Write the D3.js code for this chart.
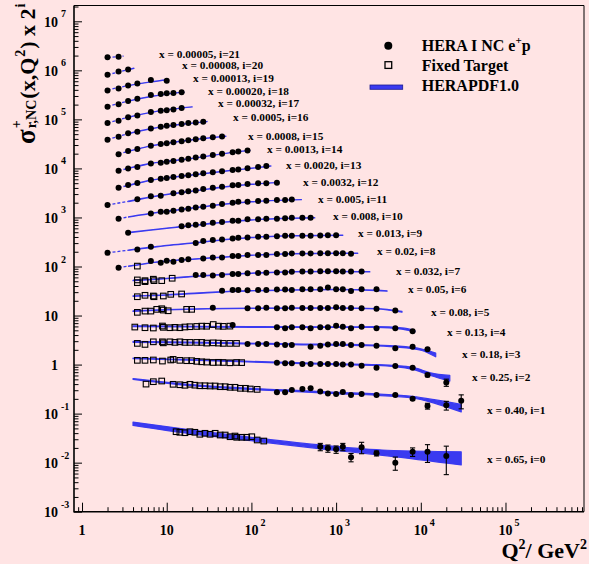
<!DOCTYPE html>
<html>
<head>
<meta charset="utf-8">
<script src="https://cdn.jsdelivr.net/npm/d3@7"></script>
<style>
  html, body { margin: 0; padding: 0; background: #ffe4e4; }
  svg { display: block; }
  text { font-family: "Liberation Serif", "DejaVu Serif", serif; font-weight: bold; fill: #000; }
</style>
</head>
<body>
<svg id="chart" width="589" height="564"></svg>
<script>
// x bin of each row, row i is drawn scaled by 2^i
const xBinLabels = ["0.65", "0.40", "0.25", "0.18", "0.13", "0.08", "0.05", "0.032", "0.02", "0.013",
  "0.008", "0.005", "0.0032", "0.0020", "0.0013", "0.0008", "0.0005", "0.00032", "0.00020", "0.00013",
  "0.00008", "0.00005"];

// HERA I NC e+p: [Q2, sigma_r, error]
const heraData = [
  /* i=0 */ [[650,0.0211,0.0036],[800,0.0196,0.0033],[1000,0.0187,0.0032],[1200,0.0211,0.0036],[1500,0.0129,0.0025],[2000,0.0206,0.0054],[3000,0.0155,0.0018],[5000,0.0100,0.0030],[8000,0.0167,0.0033],[12000,0.0167,0.0066],[20000,0.0137,0.0080]],
  /* i=1 */ [[200,0.136],[250,0.136],[300,0.152],[400,0.159],[500,0.164],[650,0.141],[800,0.128],[1000,0.125],[1200,0.138],[1500,0.120],[2000,0.125],[3000,0.120],[5000,0.120,0.004],[8000,0.101,0.006],[12000,0.0715,0.0097],[20000,0.074,0.015],[30000,0.0916,0.029]],
  /* i=2 */ [[200,0.272],[250,0.265],[300,0.265],[400,0.256],[500,0.256],[650,0.256],[800,0.256],[1000,0.256],[1200,0.252],[1500,0.252],[2000,0.236],[3000,0.216],[5000,0.233],[8000,0.216,0.006],[12000,0.153,0.012],[20000,0.108,0.018]],
  /* i=3 */ [[90,0.327],[120,0.327],[150,0.327],[200,0.322],[250,0.312],[300,0.312],[500,0.288],[650,0.302],[800,0.322],[1000,0.327],[1200,0.327],[1500,0.312],[2000,0.312],[3000,0.302],[5000,0.268],[8000,0.288],[12000,0.258,0.01]],
  /* i=4 */ [[60,0.40],[200,0.359],[250,0.343],[300,0.359],[400,0.359],[500,0.343],[650,0.359],[800,0.359],[1000,0.387],[1200,0.369],[1500,0.343],[2000,0.369],[3000,0.343],[5000,0.343],[8000,0.30]],
  /* i=5 */ [[35,0.45],[90,0.438],[120,0.438],[150,0.45],[200,0.438],[250,0.438],[300,0.45],[400,0.444],[500,0.444],[650,0.444],[800,0.444],[1000,0.459],[1200,0.444],[1500,0.444],[2000,0.438],[3000,0.43],[5000,0.398]],
  /* i=6 */ [[45,0.50],[60,0.52],[70,0.52],[90,0.51],[120,0.52],[150,0.52],[200,0.53],[250,0.53],[300,0.52],[400,0.54],[500,0.535],[650,0.54],[800,0.585],[1000,0.54],[1200,0.54],[1500,0.495],[2000,0.54],[3000,0.54]],
  /* i=7 */ [[22,0.525],[27,0.525],[35,0.51],[45,0.525],[60,0.55],[70,0.55],[90,0.57],[120,0.575],[150,0.585],[200,0.59],[250,0.59],[300,0.61],[400,0.62],[500,0.615],[650,0.625],[800,0.625],[1000,0.625],[1200,0.615],[1500,0.615],[2000,0.615]],
  /* i=8 */ [[2.7,0.368],[6.5,0.504],[8.5,0.465],[10,0.511],[12,0.488],[15,0.528],[18,0.546],[27,0.572],[35,0.599],[45,0.599],[60,0.637],[70,0.637],[90,0.668],[120,0.668],[150,0.668],[200,0.70],[250,0.70],[300,0.723],[400,0.72],[500,0.72],[650,0.73],[800,0.725],[1000,0.73],[1200,0.73],[1500,0.71]],
  /* i=9 */ [[2,0.371],[4.5,0.436],[6.5,0.492],[22,0.59],[27,0.643],[35,0.674],[45,0.696],[60,0.73],[70,0.751],[90,0.765],[120,0.787],[150,0.787],[200,0.813],[250,0.825],[300,0.825],[400,0.83],[500,0.83],[650,0.84],[800,0.85],[1000,0.85]],
  /* i=10 */ [[3.5,0.476],[15,0.643],[18,0.674],[22,0.693],[27,0.716],[35,0.762],[45,0.787],[60,0.837],[70,0.837],[90,0.894],[120,0.894],[150,0.919],[200,0.919],[250,0.936],[300,0.963],[400,0.963],[500,0.963]],
  /* i=11 */ [[2.7,0.459],[6.5,0.591],[8.5,0.637],[10,0.637],[12,0.668],[15,0.713],[18,0.733],[22,0.783],[27,0.806],[35,0.845],[45,0.915],[60,0.972],[70,1.019],[90,1.019],[120,1.053],[150,1.068],[200,1.104],[250,1.104],[300,1.14]],
  /* i=12 */ [[2,0.438],[4.5,0.572],[6.5,0.659],[8.5,0.677],[12,0.758],[15,0.80],[18,0.836],[22,0.865],[27,0.928],[35,0.986],[45,1.033],[60,1.104],[70,1.119],[90,1.173],[120,1.212],[150,1.224],[200,1.247]],
  /* i=13 */ [[2.7,0.492],[3.5,0.558],[4.5,0.614],[6.5,0.707],[8.5,0.751],[10,0.776],[12,0.813],[15,0.852],[18,0.881],[22,0.923],[27,0.968],[35,1.014],[45,1.063],[60,1.13],[70,1.167],[90,1.224],[120,1.30],[150,1.364]],
  /* i=14 */ [[2.7,0.546],[3.5,0.609],[4.5,0.656],[6.5,0.772],[8.5,0.80],[10,0.835],[12,0.868],[15,0.915],[18,0.958],[22,1.024],[27,1.07],[35,1.14],[45,1.21],[60,1.31],[70,1.35],[90,1.42]],
  /* i=15 */ [[2.7,0.591],[3.5,0.69],[4.5,0.758],[6.5,0.885],[8.5,0.958],[10,0.99],[12,1.038],[15,1.088],[18,1.14],[22,1.195],[27,1.253],[35,1.313],[45,1.364]],
  /* i=16 */ [[2,0.585],[2.7,0.674],[3.5,0.791],[4.5,0.852],[6.5,1.0],[8.5,1.078],[10,1.13],[12,1.168],[15,1.224],[18,1.283],[22,1.325],[27,1.364]],
  /* i=17 */ [[2,0.64],[2.7,0.713],[3.5,0.848],[4.5,0.919],[6.5,1.073],[8.5,1.14],[10,1.178],[12,1.218],[15,1.295]],
  /* i=18 */ [[2,0.69],[2.7,0.772],[3.5,0.902],[4.5,1.0],[6.5,1.195],[8.5,1.253],[10,1.295],[12,1.31],[15,1.357]],
  /* i=19 */ [[2,0.744],[2.7,0.817],[3.5,0.941],[4.5,1.033],[6.5,1.206],[10,1.168]],
  /* i=20 */ [[2,0.772],[2.7,0.906],[3.5,0.995]],
  /* i=21 */ [[2,0.877],[2.7,0.902]]
];

// Fixed target: [Q2, sigma_r]
const fixedTargetData = [
  /* i=0 */ [[12.9,0.0428],[14.3,0.0416],[16.4,0.0408],[18.8,0.0428],[21.5,0.0416],[24.6,0.0379],[28.3,0.0397],[32.5,0.0379],[37.3,0.0397],[42.8,0.0366],[49,0.0366],[56,0.0338],[64,0.0349],[67,0.0329],[77,0.0329],[88,0.0329],[101,0.0338],[117,0.0290],[140,0.0276]],
  /* i=1 */ [[5.7,0.200],[6.95,0.224],[8.73,0.231],[11.9,0.198],[14.3,0.194],[16.4,0.189],[18.8,0.198],[21.5,0.190],[24.6,0.185],[28.3,0.185],[32.5,0.183],[37.3,0.183],[42.8,0.177],[49,0.177],[56,0.172],[64,0.172],[74,0.164],[85,0.164],[97,0.159],[117,0.156]],
  /* i=2 */ [[4.5,0.305],[5.54,0.305],[6.95,0.31],[8.9,0.295],[11.15,0.31],[11.9,0.319],[14.3,0.305],[17.2,0.30],[19.7,0.30],[22.6,0.291],[25.9,0.285],[29.6,0.281],[35.4,0.276],[40.8,0.278],[46.5,0.276],[55.7,0.272],[66.7,0.276],[76.7,0.274]],
  /* i=3 */ [[4.5,0.338],[5.54,0.322],[6.95,0.364],[8.9,0.364],[9.12,0.347],[10.9,0.364],[12.5,0.354],[14.3,0.364],[16.4,0.354],[18.8,0.354],[22.6,0.354],[25.9,0.354],[29.6,0.343],[35.4,0.347],[40.8,0.343],[46.5,0.338],[55.7,0.338],[66.7,0.338]],
  /* i=4 */ [[4.2,0.364],[5.54,0.353],[6.95,0.348],[8.9,0.382],[9.12,0.359],[10.9,0.353],[12.5,0.359],[14.3,0.353],[16.4,0.365],[18.8,0.37],[22.6,0.375],[25.9,0.38],[29.6,0.378],[35.4,0.41],[40.8,0.38],[46.5,0.376],[55.7,0.38]],
  /* i=5 */ [[4.5,0.363],[5.54,0.385],[6.5,0.385],[7.62,0.418],[8.73,0.43],[9.12,0.404],[10.4,0.391],[17.2,0.418],[19.7,0.418]],
  /* i=6 */ [[4.5,0.378],[5.54,0.404],[6.95,0.391],[7.08,0.378],[9.12,0.391],[11.15,0.423],[15.0,0.43]],
  /* i=7 */ [[4.5,0.416],[4.5,0.366],[5.54,0.402],[5.54,0.384],[6.95,0.43],[7.08,0.402],[8.73,0.402],[11.6,0.45]],
  /* i=8 */ [[4.5,0.398]]
];

// HERAPDF1.0 band knots: [Q2, lower, upper]
const herapdfBand = [
  /* i=0 */ [[4,0.0575,0.0672],[20,0.0385,0.0462],[100,0.0280,0.0328],[700,0.0189,0.0226],[4000,0.0138,0.0179],[30000,0.0090,0.0167]],
  /* i=1 */ [[4,0.25,0.26],[20,0.185,0.195],[100,0.155,0.163],[300,0.142,0.150],[1000,0.128,0.136],[3000,0.118,0.126],[8000,0.104,0.112],[15000,0.080,0.095],[30000,0.054,0.077]],
  /* i=2 */ [[4,0.33,0.34],[30,0.30,0.31],[200,0.27,0.28],[1000,0.25,0.26],[3000,0.24,0.25],[8000,0.20,0.22],[13000,0.15,0.17],[22000,0.115,0.15]],
  /* i=3 */ [[4,0.355,0.37],[30,0.34,0.355],[300,0.32,0.33],[2000,0.305,0.318],[5000,0.285,0.30],[10000,0.245,0.262],[15000,0.18,0.215]],
  /* i=4 */ [[4,0.37,0.385],[20,0.365,0.377],[100,0.36,0.37],[1000,0.358,0.368],[3000,0.357,0.37],[6000,0.33,0.35],[8500,0.29,0.31]],
  /* i=5 */ [[4,0.38,0.39],[10,0.405,0.415],[30,0.425,0.435],[100,0.435,0.445],[1000,0.44,0.45],[3000,0.425,0.435],[6000,0.365,0.38]],
  /* i=6 */ [[4,0.385,0.395],[10,0.405,0.415],[30,0.455,0.465],[100,0.495,0.505],[300,0.515,0.525],[1000,0.525,0.535],[3000,0.505,0.515],[4000,0.49,0.50]],
  /* i=7 */ [[4,0.40,0.41],[10,0.44,0.45],[22,0.49,0.50],[50,0.535,0.545],[100,0.565,0.575],[300,0.605,0.615],[1000,0.615,0.625],[2500,0.605,0.615]],
  /* i=8 */ [[2.7,0.37,0.378],[4.5,0.415,0.423],[6.5,0.46,0.468],[10,0.50,0.51],[20,0.545,0.555],[50,0.605,0.615],[100,0.655,0.665],[300,0.705,0.715],[1000,0.725,0.735],[1800,0.72,0.73]],
  /* i=9 */ [[2,0.368,0.376],[3.5,0.415,0.423],[6.5,0.475,0.485],[10,0.52,0.53],[22,0.59,0.60],[50,0.69,0.70],[100,0.76,0.77],[300,0.82,0.83],[1200,0.845,0.855]],
  /* i=10 */ [[3.5,0.475,0.485],[6.5,0.535,0.545],[10,0.585,0.595],[20,0.665,0.675],[50,0.785,0.795],[100,0.865,0.875],[300,0.935,0.945],[560,0.955,0.965]],
  /* i=11 */ [[2.7,0.455,0.465],[3.5,0.495,0.505],[6.5,0.585,0.595],[10,0.645,0.655],[20,0.755,0.765],[50,0.915,0.925],[100,1.015,1.025],[200,1.085,1.095],[390,1.125,1.135]],
  /* i=12 */ [[2,0.435,0.445],[3.5,0.515,0.525],[6.5,0.635,0.645],[10,0.715,0.725],[20,0.835,0.845],[50,1.025,1.035],[100,1.155,1.165],[210,1.245,1.255]],
  /* i=13 */ [[2.7,0.49,0.50],[3.5,0.545,0.555],[6.5,0.695,0.705],[10,0.775,0.785],[20,0.895,0.905],[50,1.075,1.085],[100,1.225,1.235],[170,1.365,1.375]],
  /* i=14 */ [[2.7,0.545,0.555],[3.5,0.605,0.615],[6.5,0.765,0.775],[10,0.845,0.855],[20,0.975,0.985],[50,1.235,1.245],[96,1.415,1.425]],
  /* i=15 */ [[2.7,0.595,0.605],[3.5,0.675,0.685],[6.5,0.875,0.885],[10,0.985,0.995],[20,1.165,1.175],[50,1.375,1.385]],
  /* i=16 */ [[2,0.585,0.595],[3.5,0.775,0.785],[6.5,0.975,0.985],[10,1.105,1.115],[20,1.275,1.285],[30,1.375,1.385]],
  /* i=17 */ [[2,0.635,0.645],[3.5,0.835,0.845],[6.5,1.055,1.065],[10,1.185,1.195],[20,1.365,1.375]],
  /* i=18 */ [[2,0.695,0.705],[3.5,0.895,0.905],[6.5,1.115,1.125],[10,1.245,1.255],[16,1.365,1.375]],
  /* i=19 */ [[2,0.755,0.765],[3.5,0.925,0.935],[6.5,1.105,1.115],[10.3,1.22,1.23]],
  /* i=20 */ [[2,0.775,0.785],[2.7,0.875,0.885],[4.1,1.045,1.055]],
  /* i=21 */ [[2,0.865,0.875],[3.1,0.925,0.935]]
];

// where each "x = ..., i=..." label sits, in data units [Q2, sigma level]
const labelAnchors = [[60500,0.0117],[60500,0.058],[40200,0.141],[30600,0.204],[20400,0.292],[13200,0.368],
  [7063,0.543],[5097,0.643],[3041,0.817],[1814,0.936],[919,1.043],[611,1.157],[407,1.307],[256,1.429],
  [153,1.511],[91.2,1.415],[60.7,1.70],[40.4,1.637],[30.7,1.463],[20.4,1.344],[15.2,1.218],[8.11,1.02]];

const Q2_MIN_FIT = 3.5;   // below this the prediction is drawn dashed
const BLUE = '#3a3af0';

const svg = d3.select('#chart');
const plot = {left: 74, right: 584, top: 5.5, bottom: 511.7};

const x = d3.scaleLog().domain([0.804, 8.45e5]).range([plot.left, plot.right]);
const y = d3.scaleLog().domain([1e-3, 2.1e7]).range([plot.bottom, plot.top]);

const scaled = (i, s) => s * Math.pow(2, i);
const isMajor = d => Math.abs(Math.log10(d) - Math.round(Math.log10(d))) < 1e-6;

function logTicks(lo, hi) {
    const t = [];
    for (let e = Math.floor(Math.log10(lo)); e <= Math.ceil(Math.log10(hi)); e++) {
        for (let k = 1; k < 10; k++) {
            const v = k * Math.pow(10, e);
            if (v >= lo && v <= hi) t.push(v);
        }
    }
    return t;
}

// clip regions: fitted range vs extrapolation
const defs = svg.append('defs');
defs.append('clipPath').attr('id', 'fitRange').append('rect')
    .attr('x', x(Q2_MIN_FIT)).attr('y', plot.top)
    .attr('width', plot.right - x(Q2_MIN_FIT)).attr('height', plot.bottom - plot.top);
defs.append('clipPath').attr('id', 'extrap').append('rect')
    .attr('x', plot.left).attr('y', plot.top)
    .attr('width', x(Q2_MIN_FIT) - plot.left).attr('height', plot.bottom - plot.top);

// HERAPDF bands
const bandG = svg.append('g');
herapdfBand.forEach((knots, i) => {
    const pts = knots.map(k => ({q: k[0], lo: scaled(i, k[1]), hi: scaled(i, k[2])}));
    const area = d3.area()
        .x(d => x(d.q)).y0(d => y(d.lo)).y1(d => y(d.hi))
        .curve(d3.curveMonotoneX);
    const mid = d3.line()
        .x(d => x(d.q)).y(d => y(Math.sqrt(d.lo * d.hi)))
        .curve(d3.curveMonotoneX);

    bandG.append('path')
        .attr('d', area(pts))
        .attr('clip-path', 'url(#fitRange)')
        .attr('fill', BLUE)
        .attr('stroke', BLUE)
        .attr('stroke-width', 1.2)
        .attr('stroke-linejoin', 'round');

    bandG.append('path')
        .attr('d', mid(pts))
        .attr('clip-path', 'url(#extrap)')
        .attr('fill', 'none')
        .attr('stroke', BLUE)
        .attr('stroke-width', 1.3)
        .attr('stroke-dasharray', '3,2');
});

// fixed target squares
const ftG = svg.append('g');
fixedTargetData.forEach((pts, i) => {
    pts.forEach(p => {
        ftG.append('rect')
            .attr('x', x(p[0]) - 2.8)
            .attr('y', y(scaled(i, p[1])) - 2.8)
            .attr('width', 5.6)
            .attr('height', 5.6)
            .attr('fill', 'none')
            .attr('stroke', '#000')
            .attr('stroke-width', 1.1);
    });
});

// HERA points with error bars
const heraG = svg.append('g');
heraData.forEach((pts, i) => {
    pts.forEach(p => {
        const cx = x(p[0]);
        const err = p[2] || 0;
        if (err > 0) {
            const yTop = y(scaled(i, p[1] + err));
            const yBot = y(scaled(i, p[1] - err));
            heraG.append('line')
                .attr('x1', cx).attr('x2', cx).attr('y1', yTop).attr('y2', yBot)
                .attr('stroke', '#000').attr('stroke-width', 1.1);
            [yTop, yBot].forEach(yy => {
                heraG.append('line')
                    .attr('x1', cx - 2.6).attr('x2', cx + 2.6).attr('y1', yy).attr('y2', yy)
                    .attr('stroke', '#000').attr('stroke-width', 1.1);
            });
        }
        heraG.append('circle')
            .attr('cx', cx)
            .attr('cy', y(scaled(i, p[1])))
            .attr('r', 3)
            .attr('fill', '#000');
    });
});

// row labels
labelAnchors.forEach((a, i) => {
    svg.append('text')
        .attr('x', x(a[0]))
        .attr('y', y(scaled(i, a[1])))
        .attr('dy', '0.35em')
        .style('font-size', '11.3px')
        .text(`x = ${xBinLabels[i]}, i=${i}`);
});

// axes (ticks drawn inwards)
const xAxisG = svg.append('g')
    .attr('transform', `translate(0,${plot.bottom})`)
    .call(d3.axisBottom(x).tickValues(logTicks(0.804, 8.45e5)).tickFormat('').tickSizeOuter(0));
xAxisG.select('.domain').remove();
xAxisG.selectAll('.tick line')
    .attr('y2', d => isMajor(d) ? -9 : -4.5)
    .attr('stroke', '#000')
    .attr('stroke-width', 1);

const yAxisG = svg.append('g')
    .attr('transform', `translate(${plot.left},0)`)
    .call(d3.axisLeft(y).tickValues(logTicks(1e-3, 2.1e7)).tickFormat('').tickSizeOuter(0));
yAxisG.select('.domain').remove();
yAxisG.selectAll('.tick line')
    .attr('x2', d => isMajor(d) ? 8 : 4.5)
    .attr('stroke', '#000')
    .attr('stroke-width', 1);

// frame
svg.append('path')
    .attr('d', `M${plot.left},${plot.top}H${plot.right}V${plot.bottom}`)
    .attr('fill', 'none').attr('stroke', '#000').attr('stroke-width', 1);
svg.append('path')
    .attr('d', `M${plot.left},${plot.top}V${plot.bottom}H${plot.right}`)
    .attr('fill', 'none').attr('stroke', '#000').attr('stroke-width', 1.6);

// y tick labels
d3.range(-3, 8).forEach(e => {
    const ty = y(Math.pow(10, e));
    svg.append('text')
        .attr('x', 58).attr('y', ty + 5.5)
        .attr('text-anchor', 'end')
        .style('font-size', '14px')
        .text(e === 0 ? '1' : '10');
    if (e !== 0 && e !== 1) {
        svg.append('text')
            .attr('x', 61).attr('y', ty - 4)
            .style('font-size', '10px')
            .text(e < 0 ? '-' + (-e) : String(e));
    }
});

// x tick labels
d3.range(0, 6).forEach(e => {
    const tx = x(Math.pow(10, e));
    svg.append('text')
        .attr('x', tx).attr('y', 535)
        .attr('text-anchor', 'middle')
        .style('font-size', '14px')
        .text(e === 0 ? '1' : '10');
    if (e >= 2) {
        svg.append('text')
            .attr('x', tx + 9).attr('y', 525.5)
            .style('font-size', '10px')
            .text(String(e));
    }
});

// x axis title
const xt = svg.append('text')
    .attr('x', 587).attr('y', 558)
    .attr('text-anchor', 'end')
    .style('font-size', '22px');
xt.append('tspan').text('Q');
xt.append('tspan').attr('dy', -9).style('font-size', '14px').text('2');
xt.append('tspan').attr('dy', 9).text('/ GeV');
xt.append('tspan').attr('dy', -9).style('font-size', '14px').text('2');

// y axis title, built piece by piece along the rotated baseline
const yt = svg.append('g').attr('transform', 'translate(35,144) rotate(-90)');
const yParts = [
    {t: 'σ', size: 27, dy: 0},
    {t: '+', size: 14, dy: -14, stay: true},
    {t: 'r,NC', size: 14, dy: 1},
    {t: '(x,Q', size: 22, dy: 0},
    {t: '2', size: 14, dy: -10},
    {t: ') x 2', size: 22, dy: 0},
    {t: 'i', size: 14, dy: -10}
];
let run = 0;
yParts.forEach(p => {
    const el = yt.append('text')
        .attr('x', run).attr('y', p.dy)
        .style('font-size', p.size + 'px')
        .text(p.t);
    if (!p.stay) run += el.node().getComputedTextLength() + 1;
});

// legend
const leg = svg.append('g');
leg.append('circle').attr('cx', 388.3).attr('cy', 45.7).attr('r', 4).attr('fill', '#000');
const l1 = leg.append('text').attr('x', 421.7).attr('y', 50.7).style('font-size', '16px');
l1.append('tspan').text('HERA I NC e');
l1.append('tspan').attr('dy', -7).style('font-size', '11px').text('+');
l1.append('tspan').attr('dy', 7).text('p');

leg.append('rect').attr('x', 385).attr('y', 61.7).attr('width', 6.7).attr('height', 6.7)
    .attr('fill', 'none').attr('stroke', '#000').attr('stroke-width', 1.3);
leg.append('text').attr('x', 421.7).attr('y', 70.7).style('font-size', '16px').text('Fixed Target');

leg.append('rect').attr('x', 370).attr('y', 85).attr('width', 32.7).attr('height', 4.3)
    .attr('fill', BLUE).attr('stroke', '#1c1c90').attr('stroke-width', 0.8);
leg.append('text').attr('x', 421.7).attr('y', 90.5).style('font-size', '16px').text('HERAPDF1.0');
</script>
</body>
</html>
